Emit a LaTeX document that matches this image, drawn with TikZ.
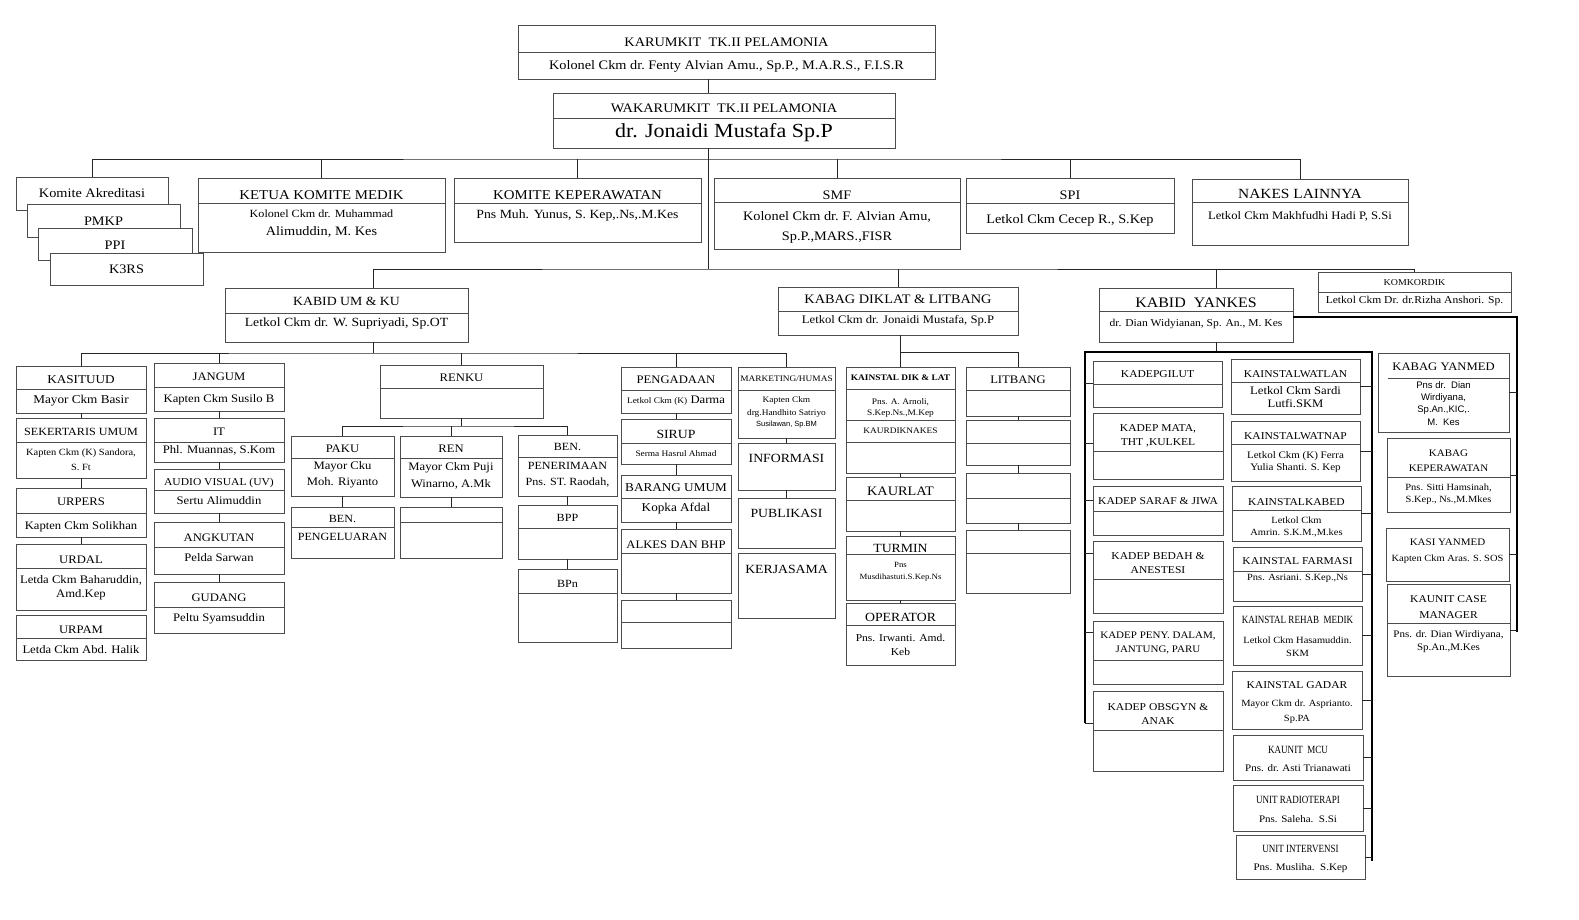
\documentclass[tikz,border=0pt]{standalone}
\usepackage{fontspec}
\setmainfont[FakeStretch=1.1]{Liberation Serif}
\setsansfont{Liberation Sans}
\newfontfamily\condfont[FakeStretch=0.82]{Liberation Serif}
\usetikzlibrary{fit}

\tikzset{
  orgbox/.style={draw=black!70, fill=white, line width=0.8pt, inner sep=0pt, outer sep=0pt},
  divline/.style={draw=black!70, line width=0.8pt},
  conn/.style={draw=black!85, line width=0.9pt},
  thickline/.style={draw=black, line width=2.6pt},
  lbl/.style={inner sep=0pt, font=\fontsize{#1}{#1}\selectfont},
  lbl/.default=11.5,
  cnd/.style={inner sep=0pt, font=\condfont\fontsize{#1}{#1}\selectfont},
  cnd/.default=11,
  snf/.style={inner sep=0pt, font=\sffamily\fontsize{#1}{#1}\selectfont},
  snf/.default=9,
}

% kotak unit: nama, x1, y1, x2, y2
\newcommand{\unitbox}[5]{\node[orgbox, fit={(#2,#3) (#4,#5)}] (#1) {};}
% kotak unit dengan garis pemisah pada y
\newcommand{\unitsplit}[6]{\unitbox{#1}{#2}{#3}{#4}{#5}
  \draw[divline] (#1.west |- 0,#6) -- (#1.east |- 0,#6);}

\begin{document}
\begin{tikzpicture}[x=1pt,y=-1pt]
\useasboundingbox (0,0) rectangle (1579,920);

% titik bantu garis
\coordinate (trunk) at (708,159);
\coordinate (bus) at (708,269);
\coordinate (umbus) at (373,353);
\coordinate (renbus) at (462,426);
\coordinate (dikbus) at (900,352);
\coordinate (ydrop) at (1216,352);
\coordinate (frameL) at (1085,352);
\coordinate (frameR) at (1372,352);
\coordinate (frameY) at (1517,317);

% ---------- pimpinan
\unitsplit{karumkit}{518}{25}{935}{79}{52}
\node[lbl=13] (karumkit-t) at (karumkit.center |- 0,42) {KARUMKIT\ \ TK.II PELAMONIA};
\node[lbl=13] (karumkit-b) at (karumkit.center |- 0,66) {Kolonel\ Ckm dr.\ Fenty\ Alvian Amu., Sp.P., M.A.R.S., F.I.S.R};
\unitsplit{waka}{553}{93}{895}{148}{118}
\node[lbl=13] (waka-t) at (waka.center |- 0,108) {WAKARUMKIT\ \ TK.II PELAMONIA};
\node[lbl=20] (waka-b) at (waka.center |- 0,133) {dr. Jonaidi Mustafa Sp.P};

% ---------- komite & staf
\unitbox{akred}{16}{177}{168}{210}
\node[lbl=13] (akred-t) at (akred.center |- 0,193) {Komite Akreditasi};
\unitbox{pmkp}{27}{204}{180}{237}
\node[lbl=13] (pmkp-t) at (pmkp.center |- 0,221) {PMKP};
\unitbox{ppi}{38}{228}{192}{260}
\node[lbl=13] (ppi-t) at (ppi.center |- 0,245) {PPI};
\unitbox{k3rs}{50}{253}{203}{285}
\node[lbl=13] (k3rs-t) at (k3rs.center |- 0,269) {K3RS};

\unitsplit{ketua}{198}{178}{445}{252}{203}
\node[lbl=13.5] (ketua-t) at (ketua.center |- 0,195) {KETUA KOMITE MEDIK};
\node[lbl=11] (ketua-b1) at (ketua.center |- 0,214) {Kolonel Ckm dr. Muhammad};
\node[lbl=13] (ketua-b2) at (ketua.center |- 0,232) {Alimuddin, M. Kes};
\unitsplit{kk}{454}{178}{701}{242}{203}
\node[lbl=13.5] (kk-t) at (kk.center |- 0,195) {KOMITE KEPERAWATAN};
\node[lbl=12.5] (kk-b) at (kk.center |- 0,215) {Pns Muh. Yunus, S. Kep,.Ns,.M.Kes};
\unitsplit{smf}{714}{178}{960}{249}{202}
\node[lbl=13] (smf-t) at (smf.center |- 0,195) {SMF};
\node[lbl=13] (smf-b1) at (smf.center |- 0,217) {Kolonel\ Ckm dr.\ F. Alvian Amu,};
\node[lbl=13] (smf-b2) at (smf.center |- 0,238) {Sp.P.,MARS.,FISR};
\unitsplit{spi}{966}{178}{1174}{233}{203}
\node[lbl=13] (spi-t) at (spi.center |- 0,195) {SPI};
\node[lbl=13] (spi-b) at (spi.center |- 0,220) {Letkol\ Ckm Cecep\ R., S.Kep};
\unitsplit{nakes}{1192}{179}{1408}{245}{202}
\node[lbl=14] (nakes-t) at (nakes.center |- 0,194) {NAKES LAINNYA};
\node[lbl=11.5] (nakes-b) at (nakes.center |- 0,216) {Letkol Ckm Makhfudhi Hadi P, S.Si};

% ---------- kabid / kabag
\unitsplit{kabidum}{225}{288}{468}{342}{313}
\node[lbl=12.5] (kabidum-t) at (kabidum.center |- 0,301) {KABID UM \& KU};
\node[lbl=12.5] (kabidum-b) at (kabidum.center |- 0,324) {Letkol Ckm dr. W. Supriyadi, Sp.OT};
\unitsplit{diklat}{778}{287}{1018}{335}{311}
\node[lbl=13] (diklat-t) at (diklat.center |- 0,299) {KABAG DIKLAT \& LITBANG};
\node[lbl=11.5] (diklat-b) at (diklat.center |- 0,321) {Letkol Ckm dr. Jonaidi Mustafa, Sp.P};
\unitsplit{yankes}{1099}{288}{1293}{342}{311}
\node[lbl=14.5] (yankes-t) at (yankes.center |- 0,303) {KABID\ \ YANKES};
\node[lbl=10.5] (yankes-b) at (yankes.center |- 0,324) {dr. Dian Widyianan, Sp. An., M. Kes};
\unitsplit{komkordik}{1318}{272}{1511}{312}{292}
\node[lbl=9] (komkordik-t) at (komkordik.center |- 0,283) {KOMKORDIK};
\node[lbl=10.5] (komkordik-b) at (komkordik.center |- 0,301) {Letkol Ckm Dr. dr.Rizha Anshori. Sp.};

% ---------- bidang umum & keuangan
\unitsplit{kasituud}{16}{366}{146}{413}{389}
\node[lbl=12] (kasituud-t) at (kasituud.center |- 0,380) {KASITUUD};
\node[lbl=12] (kasituud-b) at (kasituud.center |- 0,401) {Mayor Ckm Basir};
\unitsplit{sekum}{16}{418}{146}{478}{442}
\node[lbl=11] (sekum-t) at (sekum.center |- 0,432) {SEKERTARIS UMUM};
\node[lbl=9.5] (sekum-b1) at (sekum.center |- 0,453) {Kapten\ Ckm (K) Sandora,};
\node[lbl=9.5] (sekum-b2) at (sekum.center |- 0,467) {S. Ft};
\unitsplit{urpers}{16}{488}{146}{537}{513}
\node[lbl=11.5] (urpers-t) at (urpers.center |- 0,502) {URPERS};
\node[lbl=11.5] (urpers-b) at (urpers.center |- 0,527) {Kapten Ckm Solikhan};
\unitsplit{urdal}{16}{544}{146}{610}{568}
\node[lbl=11.5] (urdal-t) at (urdal.center |- 0,560) {URDAL};
\node[lbl=11.5] (urdal-b1) at (urdal.center |- 0,580) {Letda Ckm Baharuddin,};
\node[lbl=11.5] (urdal-b2) at (urdal.center |- 0,595) {Amd.Kep};
\unitsplit{urpam}{16}{615}{146}{660}{638}
\node[lbl=11.5] (urpam-t) at (urpam.center |- 0,630) {URPAM};
\node[lbl=11.5] (urpam-b) at (urpam.center |- 0,650) {Letda Ckm Abd. Halik};

\unitsplit{jangum}{154}{363}{284}{411}{387}
\node[lbl=11.5] (jangum-t) at (jangum.center |- 0,377) {JANGUM};
\node[lbl=11.5] (jangum-b) at (jangum.center |- 0,400) {Kapten Ckm Susilo B};
\unitsplit{it}{154}{418}{284}{462}{442}
\node[lbl=11.5] (it-t) at (it.center |- 0,432) {IT};
\node[lbl=11.5] (it-b) at (it.center |- 0,450) {Phl. Muannas, S.Kom};
\unitsplit{av}{154}{469}{284}{513}{490}
\node[lbl=10.5] (av-t) at (av.center |- 0,483) {AUDIO VISUAL (UV)};
\node[lbl=11.5] (av-b) at (av.center |- 0,501) {Sertu Alimuddin};
\unitsplit{angkutan}{154}{522}{284}{574}{547}
\node[lbl=11.5] (angkutan-t) at (angkutan.center |- 0,538) {ANGKUTAN};
\node[lbl=11.5] (angkutan-b) at (angkutan.center |- 0,558) {Pelda Sarwan};
\unitsplit{gudang}{154}{582}{284}{633}{607}
\node[lbl=11.5] (gudang-t) at (gudang.center |- 0,598) {GUDANG};
\node[lbl=11.5] (gudang-b) at (gudang.center |- 0,619) {Peltu Syamsuddin};

\unitsplit{renku}{380}{365}{543}{418}{388}
\node[lbl=11.5] (renku-t) at (renku.center |- 0,378) {RENKU};
\unitsplit{paku}{291}{436}{394}{496}{458}
\node[lbl=11.5] (paku-t) at (paku.center |- 0,449) {PAKU};
\node[lbl=11.5] (paku-b1) at (paku.center |- 0,467) {Mayor Cku};
\node[lbl=11.5] (paku-b2) at (paku.center |- 0,483) {Moh. Riyanto};
\unitsplit{benpeng}{291}{507}{394}{558}{527}
\node[lbl=11] (benpeng-t) at (benpeng.center |- 0,519) {BEN.};
\node[lbl=11] (benpeng-b) at (benpeng.center |- 0,537) {PENGELUARAN};
\unitsplit{ren}{400}{436}{502}{497}{458}
\node[lbl=11.5] (ren-t) at (ren.center |- 0,449) {REN};
\node[lbl=11.5] (ren-b1) at (ren.center |- 0,468) {Mayor Ckm Puji};
\node[lbl=11.5] (ren-b2) at (ren.center |- 0,484) {Winarno, A.Mk};
\unitsplit{renbox}{400}{507}{502}{558}{522}
\unitsplit{benpen}{518}{435}{617}{496}{457}
\node[lbl=11] (benpen-t) at (benpen.center |- 0,447) {BEN.};
\node[lbl=11] (benpen-b1) at (benpen.center |- 0,466) {PENERIMAAN};
\node[lbl=11] (benpen-b2) at (benpen.center |- 0,483) {Pns. ST. Raodah,};
\unitsplit{bpp}{518}{505}{617}{559}{528}
\node[lbl=11] (bpp-t) at (bpp.center |- 0,518) {BPP};
\unitsplit{bpn}{518}{569}{617}{642}{593}
\node[lbl=11] (bpn-t) at (bpn.center |- 0,584) {BPn};

\unitsplit{pengadaan}{621}{367}{731}{413}{390}
\node[lbl=11.5] (pengadaan-t) at (pengadaan.center |- 0,380) {PENGADAAN};
\node[lbl=11.5] (pengadaan-b) at (pengadaan.center |- 0,401) {{\fontsize{8.5}{9}\selectfont Letkol Ckm (K)} Darma};
\unitsplit{sirup}{621}{419}{731}{464}{443}
\node[lbl=12.5] (sirup-t) at (sirup.center |- 0,434) {SIRUP};
\node[lbl=8.5] (sirup-b) at (sirup.center |- 0,454) {Serma Hasrul Ahmad};
\unitsplit{barang}{621}{475}{731}{522}{498}
\node[lbl=12] (barang-t) at (barang.center |- 0,488) {BARANG UMUM};
\node[lbl=12] (barang-b) at (barang.center |- 0,509) {Kopka Afdal};
\unitsplit{alkes}{621}{529}{731}{593}{553}
\node[lbl=11.5] (alkes-t) at (alkes.center |- 0,545) {ALKES DAN BHP};
\unitsplit{alkesbox}{621}{600}{731}{648}{622}

\unitsplit{marketing}{738}{367}{835}{438}{390}
\node[lbl=8.5] (marketing-t) at (marketing.center |- 0,379) {MARKETING/HUMAS};
\node[lbl=8.5] (marketing-b1) at (marketing.center |- 0,400) {Kapten Ckm};
\node[lbl=8.5] (marketing-b2) at (marketing.center |- 0,413) {drg.Handhito Satriyo};
\node[snf=7.5] (marketing-b3) at (marketing.center |- 0,425) {Susilawan, Sp.BM};
\unitbox{informasi}{738}{443}{835}{490}
\node[lbl=12.5] (informasi-t) at (informasi.center |- 0,458) {INFORMASI};
\unitbox{publikasi}{738}{498}{835}{548}
\node[lbl=12.5] (publikasi-t) at (publikasi.center |- 0,513) {PUBLIKASI};
\unitbox{kerjasama}{738}{553}{835}{618}
\node[lbl=12.5] (kerjasama-t) at (kerjasama.center |- 0,569) {KERJASAMA};

% ---------- diklat & litbang
\unitsplit{kainstaldik}{846}{367}{955}{420}{389}
\node[lbl=8.5] (kainstaldik-t) at (kainstaldik.center |- 0,378) {\bfseries KAINSTAL\ DIK \& LAT};
\node[lbl=8.5] (kainstaldik-b1) at (kainstaldik.center |- 0,402) {Pns. A. Arnoli,};
\node[lbl=8.5] (kainstaldik-b2) at (kainstaldik.center |- 0,414) {S.Kep.Ns.,M.Kep};
\unitsplit{kaurdik}{846}{420}{955}{473}{442}
\node[lbl=8.5] (kaurdik-t) at (kaurdik.center |- 0,431) {KAURDIKNAKES};
\unitsplit{kaurlat}{846}{477}{955}{531}{500}
\node[lbl=13] (kaurlat-t) at (kaurlat.center |- 0,491) {KAURLAT};
\unitsplit{turmin}{846}{536}{955}{600}{554}
\node[lbl=12.5] (turmin-t) at (turmin.center |- 0,548) {TURMIN};
\node[lbl=8] (turmin-b1) at (turmin.center |- 0,565) {Pns};
\node[lbl=8] (turmin-b2) at (turmin.center |- 0,578) {Musdihastuti.S.Kep.Ns};
\unitsplit{operator}{846}{603}{955}{665}{625}
\node[lbl=12.5] (operator-t) at (operator.center |- 0,617) {OPERATOR};
\node[lbl=10.5] (operator-b1) at (operator.center |- 0,638) {Pns. Irwanti. Amd.};
\node[lbl=10.5] (operator-b2) at (operator.center |- 0,652) {Keb};

\unitsplit{litbang}{966}{367}{1070}{416}{390}
\node[lbl=11.5] (litbang-t) at (litbang.center |- 0,380) {LITBANG};
\unitsplit{litb}{966}{420}{1070}{465}{443}
\unitsplit{litc}{966}{473}{1070}{523}{498}
\unitsplit{litd}{966}{530}{1070}{593}{553}

% ---------- yankes: kadep
\unitsplit{gilut}{1093}{361}{1222}{407}{384}
\node[lbl=10.5] (gilut-t) at (gilut.center |- 0,374) {KADEPGILUT};
\unitsplit{mata}{1093}{413}{1223}{479}{451}
\node[lbl=10.5] (mata-t1) at (mata.center |- 0,429) {KADEP MATA,};
\node[lbl=10.5] (mata-t2) at (mata.center |- 0,443) {THT ,KULKEL};
\unitsplit{saraf}{1093}{486}{1223}{535}{511}
\node[lbl=10.5] (saraf-t) at (saraf.center |- 0,501) {KADEP SARAF \& JIWA};
\unitsplit{bedah}{1093}{541}{1223}{613}{579}
\node[lbl=10.5] (bedah-t1) at (bedah.center |- 0,556) {KADEP BEDAH \&};
\node[lbl=10.5] (bedah-t2) at (bedah.center |- 0,570) {ANESTESI};
\unitsplit{peny}{1093}{621}{1223}{684}{660}
\node[lbl=10] (peny-t1) at (peny.center |- 0,636) {KADEP PENY. DALAM,};
\node[lbl=10] (peny-t2) at (peny.center |- 0,650) {JANTUNG, PARU};
\unitsplit{obsgyn}{1093}{691}{1223}{771}{730}
\node[lbl=10.5] (obsgyn-t1) at (obsgyn.center |- 0,707) {KADEP OBSGYN \&};
\node[lbl=10.5] (obsgyn-t2) at (obsgyn.center |- 0,721) {ANAK};

% ---------- yankes: kainstal
\unitsplit{watlan}{1231}{359}{1360}{414}{382}
\node[lbl=10.5] (watlan-t) at (watlan.center |- 0,374) {KAINSTALWATLAN};
\node[lbl=11.5] (watlan-b1) at (watlan.center |- 0,391) {Letkol Ckm Sardi};
\node[lbl=11.5] (watlan-b2) at (watlan.center |- 0,404) {Lutfi.SKM};
\unitsplit{watnap}{1231}{421}{1360}{481}{444}
\node[lbl=10.5] (watnap-t) at (watnap.center |- 0,436) {KAINSTALWATNAP};
\node[lbl=10] (watnap-b1) at (watnap.center |- 0,456) {Letkol Ckm (K) Ferra};
\node[lbl=10] (watnap-b2) at (watnap.center |- 0,468) {Yulia Shanti. S. Kep};
\unitsplit{kabed}{1232}{486}{1361}{541}{510}
\node[lbl=10.5] (kabed-t) at (kabed.center |- 0,502) {KAINSTALKABED};
\node[lbl=9.5] (kabed-b1) at (kabed.center |- 0,520) {Letkol Ckm};
\node[lbl=9.5] (kabed-b2) at (kabed.center |- 0,533) {Amrin. S.K.M.,M.kes};
\unitsplit{farmasi}{1233}{547}{1362}{601}{571}
\node[lbl=10.5] (farmasi-t) at (farmasi.center |- 0,561) {KAINSTAL\ FARMASI};
\node[lbl=9.5] (farmasi-b) at (farmasi.center |- 0,578) {Pns. Asriani. S.Kep.,Ns};
\unitbox{rehab}{1233}{606}{1362}{665}
\node[cnd=11] (rehab-t) at (rehab.center |- 0,620) {KAINSTAL REHAB\ \ MEDIK};
\node[lbl=9.5] (rehab-b1) at (rehab.center |- 0,640) {Letkol Ckm Hasamuddin.};
\node[lbl=9.5] (rehab-b2) at (rehab.center |- 0,653) {SKM};
\unitbox{gadar}{1232}{671}{1362}{729}
\node[lbl=10.5] (gadar-t) at (gadar.center |- 0,685) {KAINSTAL GADAR};
\node[lbl=9.5] (gadar-b1) at (gadar.center |- 0,704) {Mayor Ckm dr. Asprianto.};
\node[lbl=9.5] (gadar-b2) at (gadar.center |- 0,719) {Sp.PA};
\unitbox{mcu}{1233}{735}{1363}{780}
\node[cnd=11] (mcu-t) at (mcu.center |- 0,750) {KAUNIT\ \ MCU};
\node[lbl=10] (mcu-b) at (mcu.center |- 0,768) {Pns. dr. Asti Trianawati};
\unitbox{radio}{1233}{785}{1363}{831}
\node[cnd=11] (radio-t) at (radio.center |- 0,800) {UNIT RADIOTERAPI};
\node[lbl=10] (radio-b) at (radio.center |- 0,819) {Pns. Saleha.\ \ S.Si};
\unitbox{interv}{1236}{835}{1365}{879}
\node[cnd=11] (interv-t) at (interv.center |- 0,849) {UNIT INTERVENSI};
\node[lbl=10] (interv-b) at (interv.center |- 0,868) {Pns. Musliha.\ \ S.Kep};

% ---------- yankes: yanmed
\unitbox{kabagyanmed}{1378}{353}{1509}{432}
\draw[divline] (1388,378) -- (kabagyanmed.east |- 0,378);
\node[lbl=11.5] (kabagyanmed-t) at (kabagyanmed.center |- 0,367) {KABAG YANMED};
\node[snf=9.5] (kabagyanmed-b1) at (kabagyanmed.center |- 0,385) {Pns dr.\ \ Dian};
\node[snf=9.5] (kabagyanmed-b2) at (kabagyanmed.center |- 0,398) {Wirdiyana,};
\node[snf=9.5] (kabagyanmed-b3) at (kabagyanmed.center |- 0,410) {Sp.An.,KIC,.};
\node[snf=9.5] (kabagyanmed-b4) at (kabagyanmed.center |- 0,422) {M.\ \ Kes};
\unitsplit{kabagkep}{1387}{438}{1510}{512}{477}
\node[lbl=10] (kabagkep-t1) at (kabagkep.center |- 0,453) {KABAG};
\node[lbl=10] (kabagkep-t2) at (kabagkep.center |- 0,468) {KEPERAWATAN};
\node[lbl=9.5] (kabagkep-b1) at (kabagkep.center |- 0,488) {Pns. Sitti Hamsinah,};
\node[lbl=9.5] (kabagkep-b2) at (kabagkep.center |- 0,500) {S.Kep., Ns.,M.Mkes};
\unitbox{kasiyanmed}{1386}{528}{1509}{581}
\node[lbl=10] (kasiyanmed-t) at (kasiyanmed.center |- 0,542) {KASI YANMED};
\node[lbl=9.5] (kasiyanmed-b) at (kasiyanmed.center |- 0,559) {Kapten\ Ckm Aras. S. SOS};
\unitsplit{kaunitcase}{1387}{584}{1510}{676}{623}
\node[lbl=10.5] (kaunitcase-t1) at (kaunitcase.center |- 0,599) {KAUNIT CASE};
\node[lbl=10.5] (kaunitcase-t2) at (kaunitcase.center |- 0,615) {MANAGER};
\node[lbl=10] (kaunitcase-b1) at (kaunitcase.center |- 0,635) {Pns. dr. Dian Wirdiyana,};
\node[lbl=10] (kaunitcase-b2) at (kaunitcase.center |- 0,648) {Sp.An.,M.Kes};

% ---------- garis penghubung
\draw[conn] (karumkit.south -| trunk) -- (waka.north -| trunk);
\draw[conn] (waka.south -| trunk) -- (bus);
\draw[conn] (akred.north) |- (trunk) -| (nakes.north);
\foreach \n in {ketua,kk,smf,spi}
  \draw[conn] (\n.north) -- (\n.north |- trunk);
\draw[conn] (kabidum.north -| umbus) |- (bus) -| (komkordik.north);
\draw[conn] (diklat.north) -- (diklat.north |- bus);
\draw[conn] (yankes.north -| ydrop) -- (ydrop |- bus);
\draw[conn] (yankes.south -| ydrop) -- (ydrop);

\draw[conn] (kabidum.south -| umbus) -- (umbus);
\draw[conn] (kasituud.north) |- (umbus) -| (marketing.north);
\foreach \n in {jangum,renku,pengadaan}
  \draw[conn] (\n.north) -- (\n.north |- umbus);
\draw[conn] (renku.south) -- (renku.south |- renbus);
\draw[conn] (paku.north) |- (renbus) -| (benpen.north);
\draw[conn] (ren.north) -- (ren.north |- renbus);

\draw[conn] (diklat.south -| kainstaldik.north) -- (kainstaldik.north);
\draw[conn] (kainstaldik.north |- dikbus) -| (litbang.north);

\foreach \a/\b in {kasituud/sekum, sekum/urpers, urpers/urdal,
    jangum/it, it/av, av/angkutan, angkutan/gudang,
    paku/benpeng, ren/renbox, benpen/bpp, bpp/bpn,
    pengadaan/sirup, sirup/barang, barang/alkes, alkes/alkesbox,
    marketing/informasi, informasi/publikasi,
    kaurdik/kaurlat, kaurlat/turmin, turmin/operator,
    litbang/litb, litb/litc, litc/litd}
  \draw[conn] (\a.south) -- (\b.north);

% bingkai yankes
\draw[thickline] (frameL |- 0,723) -- (frameL) -- (frameR) -- (frameR |- 0,861);
\foreach \n/\y in {gilut/383, mata/443, saraf/500, bedah/553, peny/632, obsgyn/723}
  \draw[conn] (\n.west |- 0,\y) -- (frameL |- 0,\y);
\foreach \n in {watlan,watnap,kabed,farmasi,rehab,gadar,mcu,radio,interv}
  \draw[conn] (\n.east) -- (\n.east -| frameR);
\draw[thickline] (yankes.east |- frameY) -- (frameY) -- (frameY |- 0,632);
\foreach \n in {kabagyanmed,kabagkep,kasiyanmed,kaunitcase}
  \draw[conn] (\n.east) -- (\n.east -| frameY);
\end{tikzpicture}
\end{document}
